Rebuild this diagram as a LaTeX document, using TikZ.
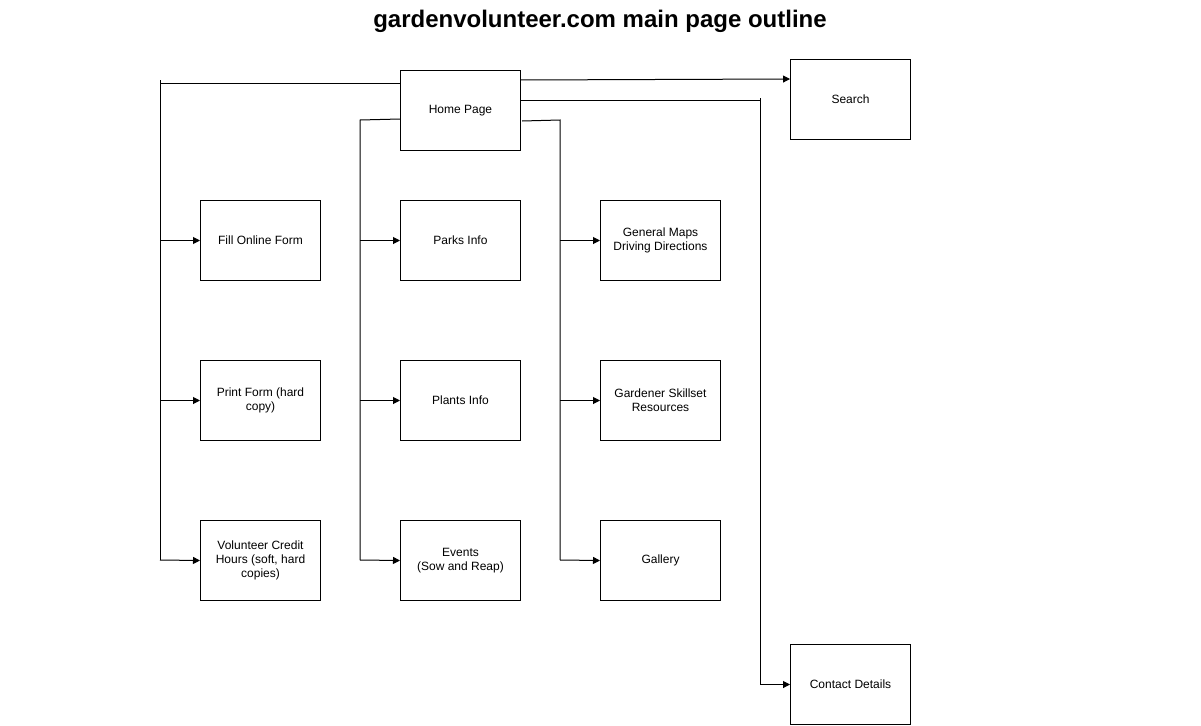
\documentclass[tikz,border=0pt]{standalone}
\usepackage{fontspec}
\setmainfont{Liberation Sans}
\usetikzlibrary{arrows.meta}
\begin{document}
\begin{tikzpicture}[x=1pt,y=-1pt,
  pagebox/.style={draw,line width=1pt,minimum width=120pt,minimum height=80pt,inner sep=0pt,align=center,font=\fontsize{12}{14}\selectfont,anchor=north west},
  conn/.style={line width=1pt},
  arr/.style={line width=1pt,-{Triangle[length=7pt,width=7pt]}}]
\useasboundingbox (0,0) rectangle (1201,725);
\node[font=\bfseries\fontsize{24}{28}\selectfont] (title) at (600,21) {gardenvolunteer.com main page outline};
\node[pagebox] (home) at (400,70) {Home Page};
\node[pagebox] (search) at (790,59) {Search};
\node[pagebox] (fill) at (200,200) {Fill Online Form};
\node[pagebox] (print) at (200,360) {Print Form (hard\\copy)};
\node[pagebox] (credit) at (200,520) {Volunteer Credit\\Hours (soft, hard\\copies)};
\node[pagebox] (parks) at (400,200) {Parks Info};
\node[pagebox] (plants) at (400,360) {Plants Info};
\node[pagebox] (events) at (400,520) {Events\\(Sow and Reap)};
\node[pagebox] (maps) at (600,200) {General Maps\\Driving Directions};
\node[pagebox] (skill) at (600,360) {Gardener Skillset\\Resources};
\node[pagebox] (gallery) at (600,520) {Gallery};
\node[pagebox] (contact) at (790,644) {Contact Details};
% coordinates
\coordinate (lt) at (160,83);
\coordinate (lb) at (160,560);
\coordinate (mt) at (360,120);
\coordinate (mb) at (360,560);
\coordinate (rt) at (560,120);
\coordinate (rb) at (560,560);
\coordinate (ct) at (760,100);
% left bus
\draw[conn] (home.west |- lt) -- (lt) -- (lb);
\draw[conn] (160,80) -- (lt);
\draw[arr] (lt |- fill.west) -- (fill.west);
\draw[arr] (lt |- print.west) -- (print.west);
\draw[arr] (lb) -- (credit.west);
% middle bus
\draw[conn] (400,119) -- (mt) -- (mb);
\draw[arr] (mt |- parks.west) -- (parks.west);
\draw[arr] (mt |- plants.west) -- (plants.west);
\draw[arr] (mb) -- (events.west);
% right bus
\draw[conn] (522,121) -- (rt) -- (rb);
\draw[arr] (rt |- maps.west) -- (maps.west);
\draw[arr] (rt |- skill.west) -- (skill.west);
\draw[arr] (rb) -- (gallery.west);
% search
\draw[arr] (520,80) -- (search.west |- 0,79);
% contact
\draw[conn] (home.east |- ct) -- (ct) -- (760,98);
\draw[arr] (ct) -- (ct |- contact.west) -- (contact.west);
\end{tikzpicture}
\end{document}
